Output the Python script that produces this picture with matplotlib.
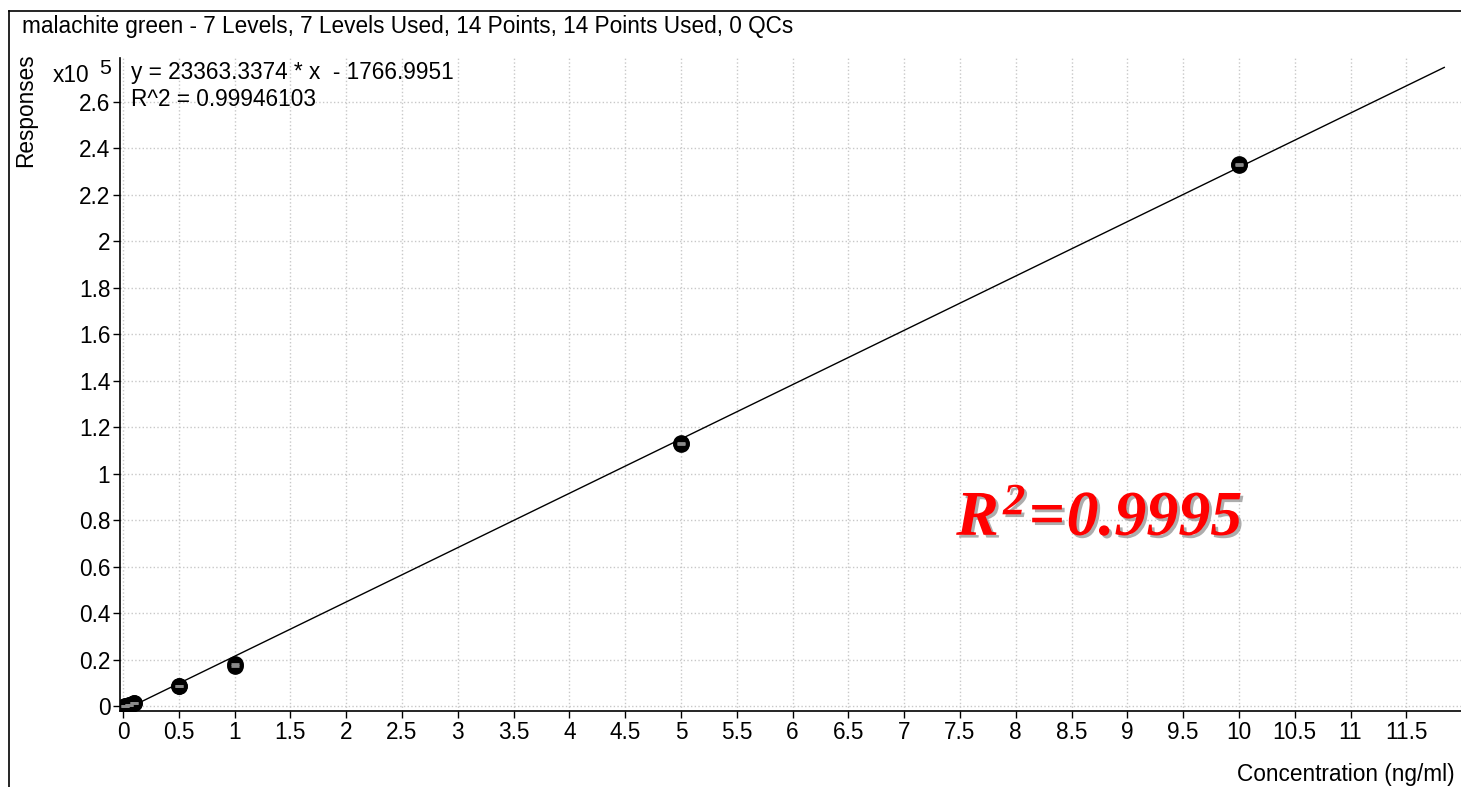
import numpy as np
import matplotlib
matplotlib.use('Agg')
import matplotlib.pyplot as plt
import matplotlib.patheffects as pe
from matplotlib.lines import Line2D

plt.rcParams['font.family'] = ['Liberation Sans', 'DejaVu Sans']
plt.rcParams['mathtext.fontset'] = 'custom'
plt.rcParams['mathtext.rm'] = 'Liberation Serif:bold:italic'
plt.rcParams['mathtext.it'] = 'Liberation Serif:bold:italic'
plt.rcParams['mathtext.bf'] = 'Liberation Serif:bold:italic'

# calibration data (concentration ng/ml, response)
conc = [0.02, 0.02, 0.05, 0.05, 0.1, 0.1, 0.5, 0.5, 1, 1, 5, 5, 10, 10]
resp = [300, 350, 700, 760, 1450, 1550, 8700, 8900, 17300, 18300,
        112800, 113200, 232900, 233300]

# fitted curve as reported
slope = 23363.3374
intercept = -1766.9951
fit_x = [0.0, 11.84]

xticks = np.arange(0, 12, 0.5)
yticks = np.arange(0, 2.7, 0.2) * 1e5

title = ('malachite green - 7 Levels, 7 Levels Used, 14 Points, '
         '14 Points Used, 0 QCs')
FS = 16.3
W, H = 1461, 787

fig = plt.figure(figsize=(14.61, 7.87), dpi=100)
ax = fig.add_axes([120 / W, 76 / H, 1341 / W, 653 / H])

fit_y = [slope * v + intercept for v in fit_x]
ax.plot(fit_x, fit_y, color='black', lw=1.0, zorder=3)
ax.plot(conc, resp, 'o', color='black', ms=11, zorder=4)
ax.plot(conc, resp, '_', color='#8a8a8a', ms=6, mew=2, zorder=5)

ax.set_xlim(-0.027, 11.99)
ax.set_ylim(-0.0194e5, 2.789e5)
ax.set_xticks(xticks)
ax.set_xticklabels(['%g' % t for t in xticks])
ax.set_yticks(yticks)
ax.set_yticklabels(['%g' % round(t / 1e5, 1) for t in yticks])
ax.tick_params(labelsize=FS, length=5, width=1, pad=2)
ax.grid(True, color='#c8c8c8', ls=':', lw=1)
ax.set_axisbelow(True)
for s in ['top', 'right']:
    ax.spines[s].set_visible(False)
ax.spines['left'].set_linewidth(1.2)
ax.spines['bottom'].set_linewidth(1.2)


def ftext(x, y, s, **kw):
    # place text by pixel position (from top-left)
    return fig.text(x / W, 1 - y / H, s, **kw)


# equation text
ftext(131, 73, 'y = 23363.3374 * x  - 1766.9951', fontsize=FS, va='center')
ftext(131, 99, 'R^2 = 0.99946103', fontsize=FS, va='center')
ftext(53, 76, 'x10', fontsize=FS, va='center')
ftext(99, 69, '5', fontsize=FS - 1, va='center')
ftext(26, 110, 'Responses', rotation=90, fontsize=FS, va='center',
      ha='center')
ftext(1455, 774, 'Concentration (ng/ml)', fontsize=FS, va='center',
      ha='right')
ftext(22, 27, title, fontsize=FS, va='center')

# red annotation
ax.text(8.75, 0.81e5, r'$R^{2}\!=\!0.9995$', color='red', fontsize=46,
        ha='center', va='center', zorder=6,
        path_effects=[pe.withSimplePatchShadow(offset=(2, -2),
                                               shadow_rgbFace='#999999',
                                               alpha=0.8)])

# outer frame
fig.add_artist(Line2D([9 / W, 9 / W], [0, 1 - 11 / H],
                      transform=fig.transFigure, color='black', lw=1.2))
fig.add_artist(Line2D([9 / W, 1], [1 - 11 / H, 1 - 11 / H],
                      transform=fig.transFigure, color='black', lw=1.2))

fig.savefig('out.png', dpi=100)
